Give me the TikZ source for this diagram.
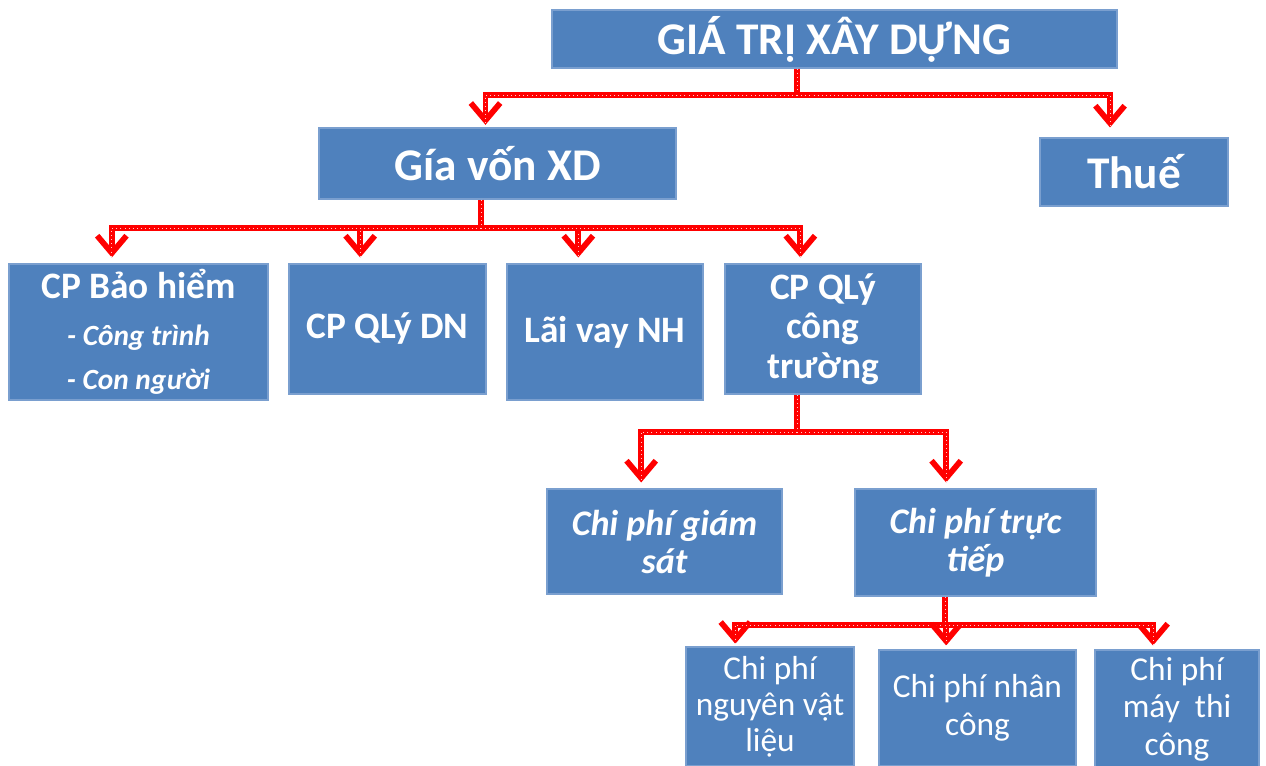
\documentclass[tikz,border=0pt]{standalone}
\usepackage{fontspec}
\setmainfont{Carlito}
\usetikzlibrary{arrows.meta}
\definecolor{boxfill}{HTML}{4F81BD}
\definecolor{boxline}{HTML}{7A9FCF}
\definecolor{conred}{HTML}{FF0000}
\tikzset{
  box/.style={draw=boxline, line width=0.8pt, fill=boxfill, text=white, align=center, inner sep=2pt, font=\bfseries},
  conn/.style={draw=conred, line width=4.3pt, line join=miter,
     postaction={draw=white, line width=0.7pt, dash pattern=on 0.7pt off 2.4pt, draw opacity=0.8, arrows=-}},
  tipd/.style={-{Straight Barb[length=13pt,width=22pt]}},
}
\begin{document}
\begin{tikzpicture}[x=0.75pt,y=-0.75pt]
\useasboundingbox (0,0) rectangle (1266,765);
\clip (0,0) rectangle (1266,765);
% boxes
\node[box, minimum width=423.75pt, minimum height=43.5pt, font=\fontsize{34}{38}\selectfont\bfseries] (A) at (834.5,39) {GIÁ TRỊ XÂY DỰNG};
\node[box, minimum width=267.75pt, minimum height=53.25pt, font=\fontsize{34}{38}\selectfont\bfseries] (B) at (497.5,163.5) {Gía vốn XD};
\node[box, minimum width=141pt, minimum height=51pt, font=\fontsize{34}{38}\selectfont\bfseries] (C) at (1134,172) {Thuế};
\node[box, minimum width=194.25pt, minimum height=102pt, font=\fontsize{28}{34}\selectfont\bfseries] (D) at (138.5,332) {CP Bảo hiểm\\[1pt]{\fontsize{22}{34}\selectfont\itshape - Công trình}\\[-1pt]{\fontsize{22}{34}\selectfont\itshape - Con người}};
\node[box, minimum width=147.75pt, minimum height=97.5pt, font=\fontsize{28}{29}\selectfont\bfseries] (E) at (387.5,329) {CP QLý DN};
\node[box, minimum width=147pt, minimum height=102pt, font=\fontsize{28}{29}\selectfont\bfseries] (F) at (605,332) {Lãi vay NH};
\node[box, minimum width=147pt, minimum height=97.5pt, font=\fontsize{28}{29.5}\selectfont\bfseries] (G) at (823,329) {CP QLý\\công\\trường};
\node[box, minimum width=176.25pt, minimum height=78.75pt, font=\fontsize{27}{28.5}\selectfont\bfseries\itshape] (H) at (664.5,541.5) {Chi phí giám\\sát};
\node[box, minimum width=180.75pt, minimum height=80.25pt, font=\fontsize{27}{28.5}\selectfont\bfseries\itshape] (I) at (975.5,542.5) {Chi phí trực\\tiếp};
\node[box, minimum width=126pt, minimum height=89.25pt, font=\fontsize{25}{27}\selectfont\mdseries] (J) at (770,706.5) {Chi phí\\nguyên vật\\liệu};
\node[box, minimum width=147.75pt, minimum height=87pt, font=\fontsize{25}{28.5}\selectfont\mdseries] (K) at (977.5,708) {Chi phí nhân\\công};
\node[box, minimum width=123pt, minimum height=88.5pt, font=\fontsize{25}{28}\selectfont\mdseries] (L) at (1177,709) {Chi phí\\máy~~thi\\công};
% junctions
\coordinate (jA) at (797,95);
\coordinate (jB) at (481,228);
\coordinate (jG) at (797,432);
\coordinate (jI) at (945,625);
% level 1
\draw[conn] (A.south -| jA) -- (jA);
\draw[conn,tipd,shorten >=2pt] (jA) -| ([xshift=-9pt]B.north);
\draw[conn,tipd,shorten >=7.5pt] (jA) -| ([xshift=-18pt]C.north);
% level 2
\draw[conn] (B.south -| jB) -- (jB);
\draw[conn,tipd,shorten >=4.5pt] (jB) -| ([xshift=-20pt]D.north);
\draw[conn,tipd,shorten >=4.5pt] (jB) -| ([xshift=-20.5pt]E.north);
\draw[conn,tipd,shorten >=4.5pt] (jB) -| ([xshift=-20pt]F.north);
\draw[conn,tipd,shorten >=4.5pt] (jB) -| ([xshift=-17pt]G.north);
% level 3
\draw[conn] (G.south -| jG) -- (jG);
\draw[conn,tipd,shorten >=4.5pt] (jG) -| ([xshift=-17.5pt]H.north);
\draw[conn,tipd,shorten >=4.5pt] (jG) -| ([xshift=-22pt]I.north);
% level 4
\draw[conn] (I.south -| jI) -- (jI);
\draw[conn,tipd,shorten >=2pt] (jI) -| ([xshift=-26pt]J.north);
\draw[conn,tipd,shorten >=3pt] (jI) -| ([xshift=-23.5pt]K.north);
\draw[conn,tipd,shorten >=3pt] (jI) -| ([xshift=-18pt]L.north);
\end{tikzpicture}
\end{document}
